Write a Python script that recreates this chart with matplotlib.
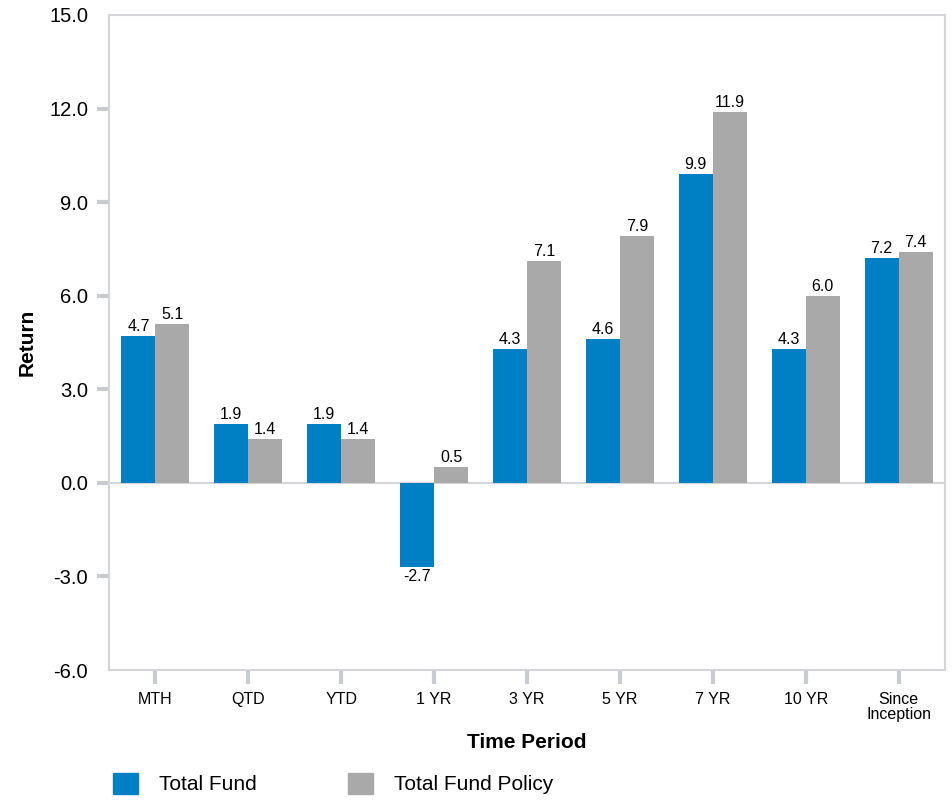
import numpy as np
import matplotlib.pyplot as plt
from matplotlib.patches import Patch

plt.rcParams['font.family'] = ['Liberation Sans', 'DejaVu Sans']

periods = ['MTH', 'QTD', 'YTD', '1 YR', '3 YR', '5 YR', '7 YR', '10 YR', 'Since\nInception']
total_fund = [4.7, 1.9, 1.9, -2.7, 4.3, 4.6, 9.9, 4.3, 7.2]
fund_policy = [5.1, 1.4, 1.4, 0.5, 7.1, 7.9, 11.9, 6.0, 7.4]
y_ticks = [-6.0, -3.0, 0.0, 3.0, 6.0, 9.0, 12.0, 15.0]

blue = '#0080c4'
grey = '#a9a9a9'
edge = '#d3d5d8'

fig = plt.figure(figsize=(9.53, 8.01), dpi=100)
ax = fig.add_axes([0.1144, 0.1635, 0.8772, 0.8178])

x = np.arange(len(periods))
w = 0.366
b1 = ax.bar(x - w / 2, total_fund, w, color=blue, zorder=2)
b2 = ax.bar(x + w / 2, fund_policy, w, color=grey, zorder=2)

# value labels above / below each bar
for bars in (b1, b2):
    for rect in bars:
        v = rect.get_height()
        cx = rect.get_x() + rect.get_width() / 2
        if v >= 0:
            ax.annotate(f'{v:.1f}', (cx, v), xytext=(0, 1.5), textcoords='offset points',
                        ha='center', va='bottom', fontsize=11.5)
        else:
            ax.annotate(f'{v:.1f}', (cx, v), xytext=(0, -1.5), textcoords='offset points',
                        ha='center', va='top', fontsize=11.5)

ax.axhline(0, color=edge, lw=1.5, zorder=1)

ax.set_xlim(-0.5, len(periods) - 0.5)
ax.set_ylim(-6, 15)
ax.set_yticks(y_ticks)
ax.set_yticklabels([f'{t:.1f}' for t in y_ticks], fontsize=14.5)
ax.set_xticks(x)
ax.set_xticklabels(periods, fontsize=11.5, linespacing=1.0)

for s in ax.spines.values():
    s.set_color(edge)
    s.set_linewidth(1.5)

ax.tick_params(axis='y', length=9, width=3, color='#c8ccd0', pad=6)
ax.tick_params(axis='x', length=10, width=3, color='#c8ccd0', pad=6)
yt = ax.yaxis.get_major_ticks()
yt[0].tick1line.set_visible(False)
yt[-1].tick1line.set_visible(False)

ax.set_ylabel('Return', fontsize=15, fontweight='bold', labelpad=9)
ax.set_xlabel('Time Period', fontsize=15, fontweight='bold', labelpad=8)

handles = [Patch(color=blue, label='Total Fund'), Patch(color=grey, label='Total Fund Policy')]
fig.legend(handles=handles, loc='center left', bbox_to_anchor=(0.099, 0.022), ncol=2,
           frameon=False, fontsize=15, handlelength=1.2, handleheight=1.2,
           handletextpad=1.0, columnspacing=4.4)

fig.savefig('out.png', dpi=100)
